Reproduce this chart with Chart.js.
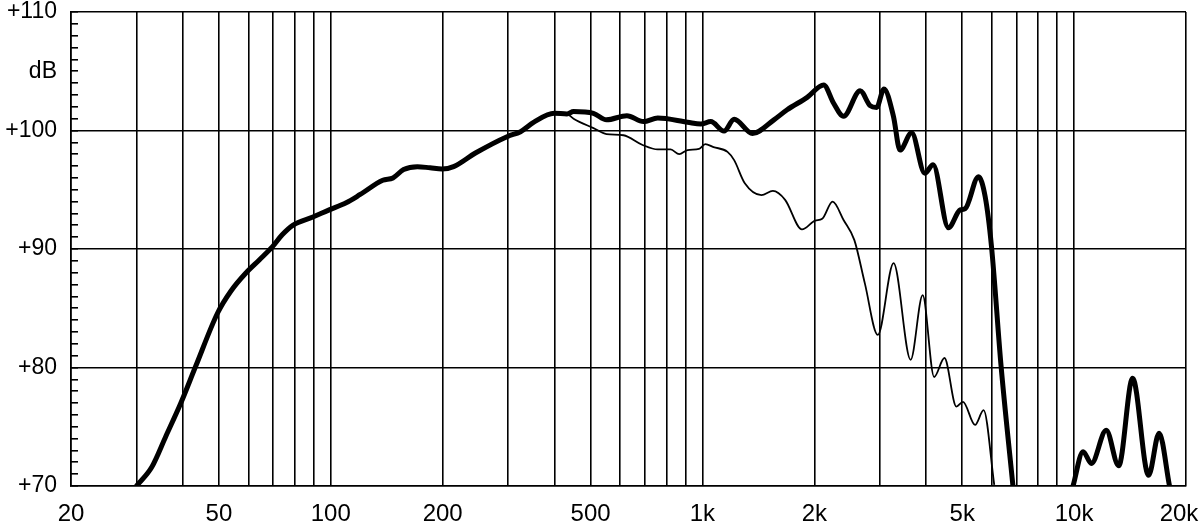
<!DOCTYPE html>
<html>
<head>
<meta charset="utf-8">
<title>Frequency response</title>
<script src="https://cdn.jsdelivr.net/npm/chart.js@4.4.1/dist/chart.umd.min.js"></script>
<style>
  html, body { margin: 0; padding: 0; background: #fff; }
  #wrap { width: 1200px; height: 532px; }
</style>
</head>
<body>
<div id="wrap"><canvas id="response-chart"></canvas></div>
<script>
// thick curve, Hz / dB (null = below the bottom edge)
const axisFreq = [30, 33, 36, 39.5, 43.3, 49.6, 54, 59.2, 64.3, 69.7, 74, 79, 89.5, 99, 110, 120, 138, 147, 157, 171, 185, 199, 214, 245, 299, 324, 352, 399, 432, 450, 509, 552, 626, 694, 758, 912, 990, 1053, 1143, 1217, 1363, 1557, 1690, 1913, 2119, 2254, 2397, 2657, 2825, 2942, 3079, 3265, 3400, 3654, 3964, 4175, 4590, 4939, 5094, 5529, 5765, 5994, 6361, 6846, 8000, 9933, 10570, 11130, 12200, 13180, 14370, 15860, 16930, 18060];
const axisLevel = [70.0, 71.6, 74.2, 77.0, 80.1, 84.6, 86.5, 88.0, 89.1, 90.2, 91.2, 92.0, 92.7, 93.3, 93.9, 94.6, 95.8, 96.0, 96.7, 96.95, 96.85, 96.75, 96.95, 98.1, 99.5, 99.9, 100.7, 101.45, 101.4, 101.6, 101.45, 100.9, 101.25, 100.75, 101.05, 100.7, 100.55, 100.75, 99.95, 100.95, 99.75, 100.9, 101.75, 102.8, 103.85, 102.3, 101.2, 103.35, 102.1, 101.95, 103.5, 101.2, 98.35, 99.8, 96.4, 97.1, 91.8, 93.3, 93.4, 96.1, 94.4, 90.2, 80.1, 70.0, null, 70.0, 72.9, 71.9, 74.7, 71.7, 79.1, 70.9, 74.45, 70.0];

// thin curve, Hz / dB
const offFreq = [30, 33, 36, 39.5, 43.3, 49.6, 54, 59.2, 64.3, 69.7, 74, 79, 89.5, 99, 110, 120, 138, 147, 157, 171, 185, 199, 214, 245, 299, 324, 352, 399, 432, 450, 509, 552, 613, 688, 758, 821, 866, 912, 979, 1018, 1071, 1168, 1217, 1300, 1441, 1547, 1669, 1853, 2011, 2100, 2240, 2397, 2563, 2735, 2963, 3268, 3632, 3913, 4201, 4478, 4822, 5024, 5413, 5708, 6097];
const offLevel = [70.0, 71.6, 74.2, 77.0, 80.1, 84.6, 86.5, 88.0, 89.1, 90.2, 91.2, 92.0, 92.7, 93.3, 93.9, 94.6, 95.8, 96.0, 96.7, 96.95, 96.85, 96.75, 96.95, 98.1, 99.5, 99.9, 100.7, 101.45, 101.4, 101.0, 100.2, 99.7, 99.6, 98.8, 98.4, 98.4, 98.0, 98.35, 98.45, 98.85, 98.6, 98.2, 97.5, 95.55, 94.55, 94.9, 94.15, 91.65, 92.4, 92.55, 94.0, 92.45, 90.75, 87.1, 82.75, 88.8, 80.65, 86.1, 79.2, 80.8, 76.7, 77.1, 75.15, 76.4, 70.1];

// vertical grid lines
const gridFreqs = [20, 30, 40, 50, 60, 70, 80, 90, 100, 200, 300, 400, 500, 600, 700, 800, 900, 1000, 2000, 3000, 4000, 5000, 6000, 7000, 8000, 9000, 10000, 20000];
// x labels; "20k" sits a little left of its line so it stays on the page
const xLabelFreqs = [20, 50, 100, 200, 500, 1000, 2000, 5000, 10000, 19150];
const xLabelTexts = ["20", "50", "100", "200", "500", "1k", "2k", "5k", "10k", "20k"];

// 1 dB tick marks, labels every 10 dB
const yTickLevels = [70, 71, 72, 73, 74, 75, 76, 77, 78, 79, 80, 81, 82, 83, 84, 85, 86, 87, 88, 89, 90, 91, 92, 93, 94, 95, 96, 97, 98, 99, 100, 101, 102, 103, 104, 105, 106, 107, 108, 109, 110];
const yLabelLevels = [70, 80, 90, 100, 105, 110];
const yLabelTexts = ["+70", "+80", "+90", "+100", "dB", "+110"];

function toPoints(freqs, levels) {
  return freqs.map(function(f, i) { return { x: f, y: levels[i] }; });
}

const ink = "#000";
const fontFamily = "'Liberation Sans', Arial, sans-serif";

const xTicks = gridFreqs.concat(xLabelFreqs.filter(function(f) { return gridFreqs.indexOf(f) < 0; }))
  .sort(function(a, b) { return a - b; });

new Chart(document.getElementById("response-chart"), {
  type: "line",
  data: {
    datasets: [
      {
        data: toPoints(axisFreq, axisLevel),
        borderColor: ink,
        borderWidth: 5,
        cubicInterpolationMode: "monotone",
        borderCapStyle: "round",
        borderJoinStyle: "round",
        pointRadius: 0,
        spanGaps: false
      },
      {
        data: toPoints(offFreq, offLevel),
        borderColor: ink,
        borderWidth: 1.8,
        cubicInterpolationMode: "monotone",
        pointRadius: 0
      }
    ]
  },
  options: {
    responsive: true,
    maintainAspectRatio: false,
    animation: false,
    events: [],
    layout: {
      autoPadding: false,
      padding: { top: 12, right: 14, bottom: 0, left: 0 }
    },
    plugins: {
      legend: { display: false },
      tooltip: { enabled: false }
    },
    scales: {
      x: {
        type: "logarithmic",
        min: 20,
        max: 20000,
        afterFit: function(scale) {
          scale.height = 46;
          scale.paddingLeft = 0;
          scale.paddingRight = 0;
        },
        afterBuildTicks: function(scale) {
          scale.ticks = xTicks.map(function(v) { return { value: v }; });
        },
        border: { color: ink, width: 1.6 },
        grid: {
          drawTicks: false,
          lineWidth: 1.6,
          color: function(ctx) {
            return gridFreqs.indexOf(ctx.tick.value) >= 0 ? ink : "rgba(0,0,0,0)";
          }
        },
        ticks: {
          autoSkip: false,
          maxRotation: 0,
          padding: 14,
          color: ink,
          font: { family: fontFamily, size: 24 },
          callback: function(value) {
            const i = xLabelFreqs.indexOf(value);
            return i >= 0 ? xLabelTexts[i] : "";
          }
        }
      },
      y: {
        min: 70,
        max: 110,
        afterFit: function(scale) {
          // the tick marks point into the plot, so drop the label padding
          scale.width = 71;
          scale.paddingTop = 0;
          scale.paddingBottom = 0;
        },
        afterBuildTicks: function(scale) {
          scale.ticks = yTickLevels.map(function(v) { return { value: v }; });
        },
        border: { color: ink, width: 1.6 },
        grid: {
          drawTicks: true,
          tickLength: -7,
          lineWidth: 1.6,
          tickWidth: 1.6,
          tickColor: ink,
          color: function(ctx) {
            return ctx.tick.value % 10 === 0 ? ink : "rgba(0,0,0,0)";
          }
        },
        ticks: {
          autoSkip: false,
          padding: 21,
          color: ink,
          font: { family: fontFamily, size: 23 },
          callback: function(value) {
            const i = yLabelLevels.indexOf(value);
            return i >= 0 ? yLabelTexts[i] : "";
          }
        }
      }
    }
  }
});
</script>
</body>
</html>
